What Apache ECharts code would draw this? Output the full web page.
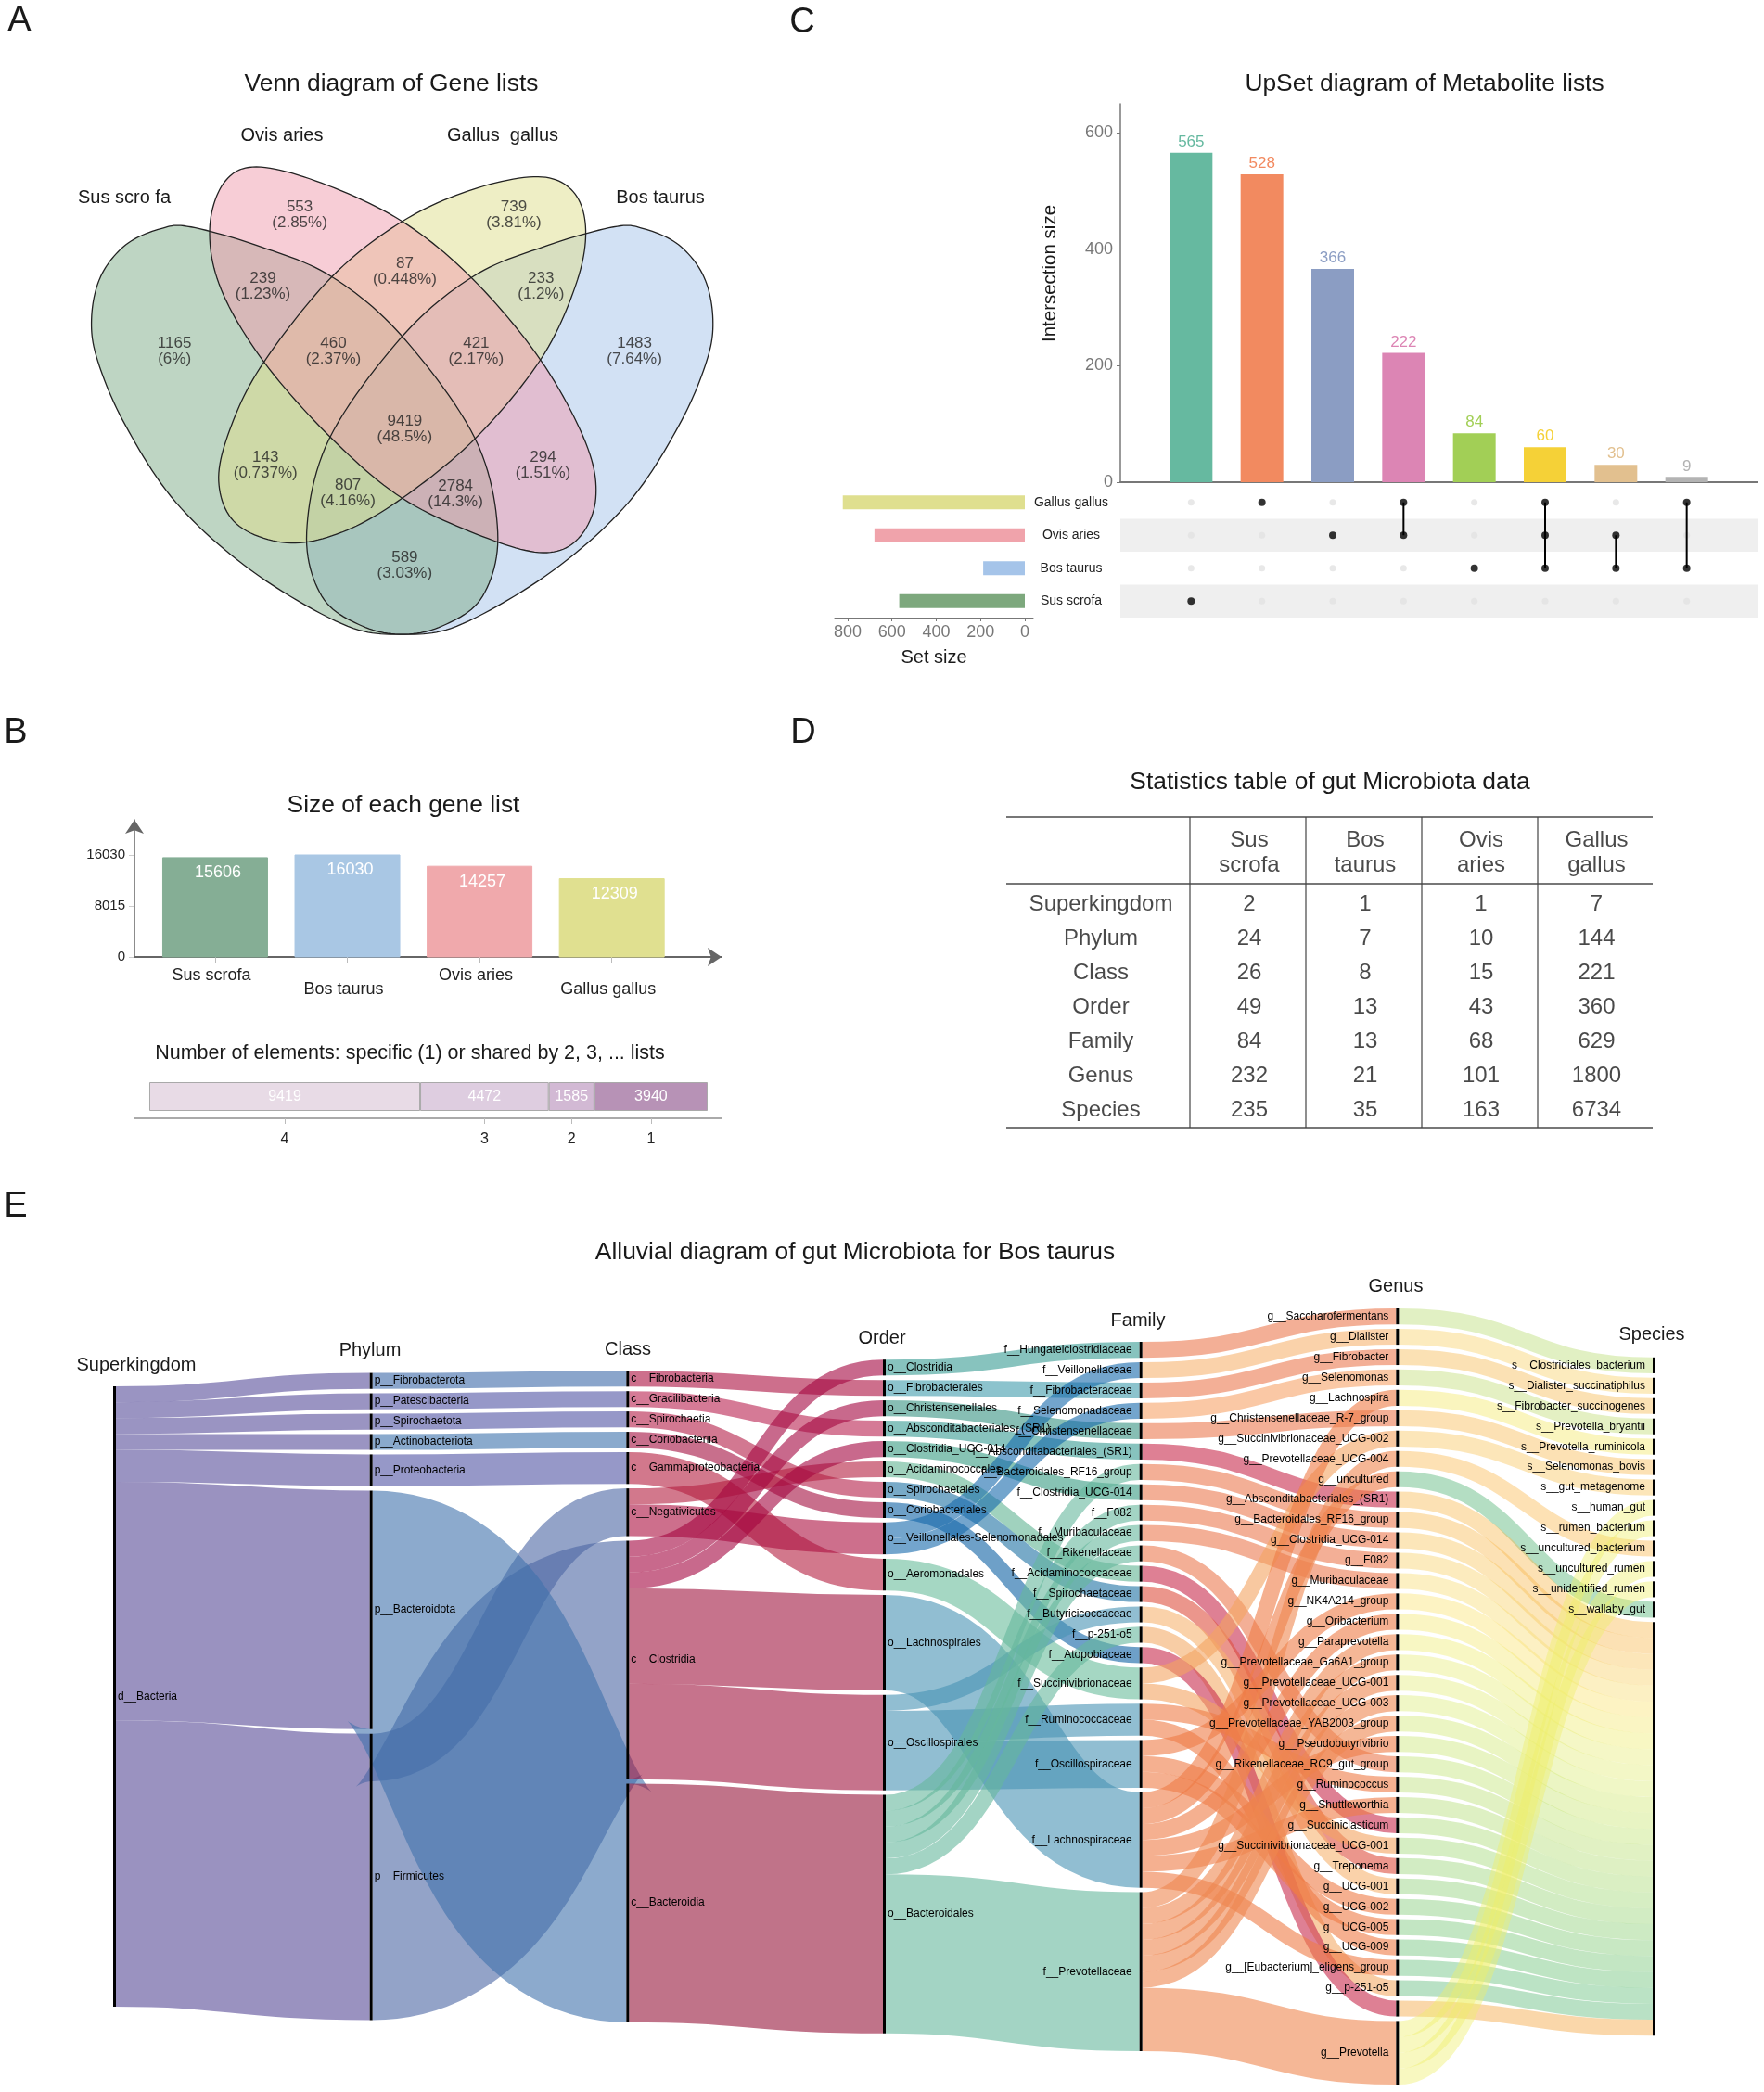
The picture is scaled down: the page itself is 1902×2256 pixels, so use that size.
<!DOCTYPE html>
<html><head><meta charset="utf-8">
<style>html,body{margin:0;padding:0;background:#fff}#c{width:1902px;height:2256px}</style>
<script src="https://cdn.jsdelivr.net/npm/echarts@6/dist/echarts.min.js"></script>
</head><body><div id="c"></div>
<script>
const FONT = "'Liberation Sans', Arial, sans-serif";

/* ---------- A: Venn ---------- */
const vennDrawOrder = [1,0,3,2];
const vennColors = ['rgba(125,171,135,0.5)','rgba(165,195,233,0.5)','rgba(239,155,173,0.5)','rgba(221,221,139,0.5)'];
const vennOutlineSus = [[380,533],[520,580],[660,650],[800,790],[945,1030],[990,1250],[960,1400],[880,1470],[790,1490],[680,1465],[500,1340],[350,1180],[250,1000],[195,850],[182,750],[200,650],[250,575],[320,537]];
const vennOutlineBos = [[1220,533],[1080,580],[940,650],[800,790],[655,1030],[610,1250],[640,1400],[720,1470],[810,1490],[920,1465],[1100,1340],[1250,1180],[1350,1000],[1405,850],[1418,750],[1400,650],[1350,575],[1280,537]];
const vennOutlineOvis = [[510,392],[640,430],[800,520],[940,655],[1075,845],[1165,1040],[1185,1170],[1150,1265],[1080,1298],[960,1260],[800,1170],[660,1030],[525,850],[440,680],[417,540],[445,430]];
const vennOutlineGallus = [[1070,415],[1140,450],[1165,540],[1145,670],[1075,845],[945,1030],[800,1170],[680,1250],[570,1275],[470,1230],[435,1130],[460,1000],[525,850],[660,650],[800,520],[940,445]];
const vennOutlines = [vennOutlineSus, vennOutlineBos, vennOutlineOvis, vennOutlineGallus];
const vennCounts = [553,739,239,87,233,1165,460,421,1483,9419,143,294,807,2784,589];
const vennPercents = ['2.85%','3.81%','1.23%','0.448%','1.2%','6%','2.37%','2.17%','7.64%','48.5%','0.737%','1.51%','4.16%','14.3%','3.03%'];
const vennLabelAt = [[596,505],[1022,505],[523,672],[805,638],[1076,672],[347,824],[663,824],[947,824],[1262,824],[805,1008],[528,1092],[1080,1092],[692,1158],[906,1160],[805,1327]];

/* ---------- B: list sizes ---------- */
const geneLists = ['Sus scrofa','Bos taurus','Ovis aries','Gallus gallus'];
const geneSizes = [15606,16030,14257,12309];
const geneColors = ['#85ae95','#a9c7e4','#f0a9ac','#e0e090'];
const sharedLabels = ['4','3','2','1'];
const sharedCounts = [9419,4472,1585,3940];
const sharedColors = ['#e8dbe6','#decde0','#d2b9d4','#b792b6'];

/* ---------- C: UpSet ---------- */
const upsetSets = ['Gallus gallus','Ovis aries','Bos taurus','Sus scrofa'];
const upsetSetSizes = [822,679,188,567];
const upsetSetColors = ['#dfdf8f','#f0a3ab','#a5c4e9','#7da87d'];
const upsetSizes = [565,528,366,222,84,60,30,9];
const upsetColors = ['#66b9a0','#f28a60','#8b9dc3','#dc85b4','#a2cf56','#f5d137','#e2c08f','#b3b3b3'];
const upsetMembers = [[3],[0],[1],[0,1],[2],[0,1,2],[1,2],[0,2]];

/* ---------- D: table ---------- */
const tableSpecies = ['Sus\nscrofa','Bos\ntaurus','Ovis\naries','Gallus\ngallus'];
const tableRanks = ['Superkingdom','Phylum','Class','Order','Family','Genus','Species'];
const tableSus = [2,24,26,49,84,232,235];
const tableBos = [1,7,8,13,13,21,35];
const tableOvis = [1,10,15,43,68,101,163];
const tableGallus = [7,144,221,360,629,1800,6734];

/* ---------- E: alluvial ---------- */
const nodesKingdom = ['d__Bacteria'];
const nodesPhylum = ['p__Fibrobacterota','p__Patescibacteria','p__Spirochaetota','p__Actinobacteriota','p__Proteobacteria','p__Bacteroidota','p__Firmicutes'];
const nodesClass = ['c__Fibrobacteria','c__Gracilibacteria','c__Spirochaetia','c__Coriobacteriia','c__Gammaproteobacteria','c__Negativicutes','c__Clostridia','c__Bacteroidia'];
const nodesOrder = ['o__Clostridia','o__Fibrobacterales','o__Christensenellales','o__Absconditabacteriales_(SR1)','o__Clostridia_UCG-014','o__Acidaminococcales','o__Spirochaetales','o__Coriobacteriales','o__Veillonellales-Selenomonadales','o__Aeromonadales','o__Lachnospirales','o__Oscillospirales','o__Bacteroidales'];
const nodesFamily = ['f__Hungateiclostridiaceae','f__Veillonellaceae','f__Fibrobacteraceae','f__Selenomonadaceae','f__Christensenellaceae','f__Absconditabacteriales_(SR1)','f__Bacteroidales_RF16_group','f__Clostridia_UCG-014','f__F082','f__Muribaculaceae','f__Rikenellaceae','f__Acidaminococcaceae','f__Spirochaetaceae','f__Butyricicoccaceae','f__p-251-o5','f__Atopobiaceae','f__Succinivibrionaceae','f__Ruminococcaceae','f__Oscillospiraceae','f__Lachnospiraceae','f__Prevotellaceae'];
const nodesGenus = ['g__Saccharofermentans','g__Dialister','g__Fibrobacter','g__Selenomonas','g__Lachnospira','g__Christensenellaceae_R-7_group','g__Succinivibrionaceae_UCG-002','g__Prevotellaceae_UCG-004','g__uncultured','g__Absconditabacteriales_(SR1)','g__Bacteroidales_RF16_group','g__Clostridia_UCG-014','g__F082','g__Muribaculaceae','g__NK4A214_group','g__Oribacterium','g__Paraprevotella','g__Prevotellaceae_Ga6A1_group','g__Prevotellaceae_UCG-001','g__Prevotellaceae_UCG-003','g__Prevotellaceae_YAB2003_group','g__Pseudobutyrivibrio','g__Rikenellaceae_RC9_gut_group','g__Ruminococcus','g__Shuttleworthia','g__Succiniclasticum','g__Succinivibrionaceae_UCG-001','g__Treponema','g__UCG-001','g__UCG-002','g__UCG-005','g__UCG-009','g__[Eubacterium]_eligens_group','g__p-251-o5','g__other','g__Prevotella'];
const nodesSpecies = ['s__Clostridiales_bacterium','s__Dialister_succinatiphilus','s__Fibrobacter_succinogenes','s__Prevotella_bryantii','s__Prevotella_ruminicola','s__Selenomonas_bovis','s__gut_metagenome','s__human_gut','s__rumen_bacterium','s__uncultured_bacterium','s__uncultured_rumen','s__unidentified_rumen','s__wallaby_gut','s__other'];
const hiddenLabels = ['g__other','s__other'];
const columnTitles = ['Superkingdom','Phylum','Class','Order','Family','Genus','Species'];

const S = 17;
const linksKingdom = [
 ['d__Bacteria','p__Fibrobacterota',S,'#9a94c2'],['d__Bacteria','p__Patescibacteria',S,'#9a94c2'],['d__Bacteria','p__Spirochaetota',S,'#9a94c2'],['d__Bacteria','p__Actinobacteriota',S,'#9a94c2'],['d__Bacteria','p__Proteobacteria',2*S,'#9a94c2'],['d__Bacteria','p__Bacteroidota',255,'#9a92c0'],['d__Bacteria','p__Firmicutes',306,'#9a92c0']];
const linksPhylum = [
 ['p__Fibrobacterota','c__Fibrobacteria',S,'#8aa5cb'],['p__Patescibacteria','c__Gracilibacteria',S,'#9698c8'],['p__Spirochaetota','c__Spirochaetia',S,'#9698c8'],['p__Actinobacteriota','c__Coriobacteriia',S,'#8aaacd'],['p__Proteobacteria','c__Gammaproteobacteria',2*S,'#9698c8'],['p__Firmicutes','c__Negativicutes',3*S,'#93a3c8'],['p__Firmicutes','c__Clostridia',255,'#93a3c8'],['p__Bacteroidota','c__Bacteroidia',255,'#8caacd']];
const linksClass = [
 ['c__Fibrobacteria','o__Fibrobacterales',S,'#cd6f8c'],['c__Gracilibacteria','o__Absconditabacteriales_(SR1)',S,'#d57a96'],['c__Spirochaetia','o__Spirochaetales',S,'#d27891'],['c__Coriobacteriia','o__Coriobacteriales',S,'#c86f8c'],['c__Gammaproteobacteria','o__Aeromonadales',2*S,'#d2788c'],['c__Negativicutes','o__Acidaminococcales',S,'#d2788c'],['c__Negativicutes','o__Veillonellales-Selenomonadales',2*S,'#cd6f8c'],['c__Clostridia','o__Clostridia',S,'#c8698c'],['c__Clostridia','o__Christensenellales',S,'#c8698c'],['c__Clostridia','o__Clostridia_UCG-014',S,'#c8698c'],['c__Clostridia','o__Lachnospirales',102,'#c6738c'],['c__Clostridia','o__Oscillospirales',102,'#c6738c'],['c__Bacteroidia','o__Bacteroidales',255,'#c07389']];
const linksOrder = [
 ['o__Clostridia','f__Hungateiclostridiaceae',S,'#87c3be'],['o__Fibrobacterales','f__Fibrobacteraceae',S,'#8cc3cd'],['o__Christensenellales','f__Christensenellaceae',S,'#87beb4'],['o__Absconditabacteriales_(SR1)','f__Absconditabacteriales_(SR1)',S,'#87c3be'],['o__Clostridia_UCG-014','f__Clostridia_UCG-014',S,'#87c3b4'],['o__Acidaminococcales','f__Acidaminococcaceae',S,'#a0d2be'],['o__Spirochaetales','f__Spirochaetaceae',S,'#78aac8'],['o__Coriobacteriales','f__Atopobiaceae',S,'#6ea0c8'],['o__Veillonellales-Selenomonadales','f__Veillonellaceae',S,'#73a5cd'],['o__Veillonellales-Selenomonadales','f__Selenomonadaceae',S,'#73a5cd'],['o__Aeromonadales','f__Succinivibrionaceae',2*S,'#a5d7c3'],['o__Lachnospirales','f__Lachnospiraceae',102,'#91bed2'],['o__Oscillospirales','f__Butyricicoccaceae',S,'#91bed2'],['o__Oscillospirales','f__Ruminococcaceae',2*S,'#91bed2'],['o__Oscillospirales','f__Oscillospiraceae',3*S,'#91bed2'],
 ['o__Bacteroidales','f__Bacteroidales_RF16_group',S,'#a3d4c4'],['o__Bacteroidales','f__F082',S,'#a3d4c4'],['o__Bacteroidales','f__Muribaculaceae',S,'#a3d4c4'],['o__Bacteroidales','f__Rikenellaceae',S,'#a3d4c4'],['o__Bacteroidales','f__p-251-o5',S,'#a3d4c4'],['o__Bacteroidales','f__Prevotellaceae',170,'#a3d4c4']];
const cSalmon='#f3af96', cPeach='#fad2aa', cRose='#de8094', cOrange='#f5b090', cPrev='#f5b796';
const linksFamily = [
 ['f__Hungateiclostridiaceae','g__Saccharofermentans',S,cSalmon],['f__Veillonellaceae','g__Dialister',S,cPeach],['f__Fibrobacteraceae','g__Fibrobacter',S,cSalmon],['f__Selenomonadaceae','g__Selenomonas',S,'#fac8a5'],['f__Christensenellaceae','g__Christensenellaceae_R-7_group',S,cSalmon],['f__Absconditabacteriales_(SR1)','g__Absconditabacteriales_(SR1)',S,cRose],['f__Bacteroidales_RF16_group','g__Bacteroidales_RF16_group',S,cSalmon],['f__Clostridia_UCG-014','g__Clostridia_UCG-014',S,cSalmon],['f__F082','g__F082',S,cSalmon],['f__Muribaculaceae','g__Muribaculaceae',S,cSalmon],['f__Rikenellaceae','g__Rikenellaceae_RC9_gut_group',S,cSalmon],['f__Acidaminococcaceae','g__Succiniclasticum',S,cRose],['f__Spirochaetaceae','g__Treponema',S,'#eb968c'],['f__Butyricicoccaceae','g__UCG-001',S,cPeach],['f__p-251-o5','g__p-251-o5',S,'#f8cda5'],['f__Atopobiaceae','g__other',S,cRose],
 ['f__Succinivibrionaceae','g__Succinivibrionaceae_UCG-002',S,'#f8c8a0'],['f__Succinivibrionaceae','g__Succinivibrionaceae_UCG-001',S,'#f8c8a0'],['f__Ruminococcaceae','g__Ruminococcus',S,cOrange],['f__Ruminococcaceae','g__UCG-009',S,cOrange],['f__Oscillospiraceae','g__NK4A214_group',S,cOrange],['f__Oscillospiraceae','g__UCG-002',S,cOrange],['f__Oscillospiraceae','g__UCG-005',S,cOrange],
 ['f__Lachnospiraceae','g__Lachnospira',S,cOrange],['f__Lachnospiraceae','g__uncultured',S,cOrange],['f__Lachnospiraceae','g__Oribacterium',S,cOrange],['f__Lachnospiraceae','g__Pseudobutyrivibrio',S,cOrange],['f__Lachnospiraceae','g__Shuttleworthia',S,cOrange],['f__Lachnospiraceae','g__[Eubacterium]_eligens_group',S,cOrange],
 ['f__Prevotellaceae','g__Prevotellaceae_UCG-004',S,cPrev],['f__Prevotellaceae','g__Paraprevotella',S,cPrev],['f__Prevotellaceae','g__Prevotellaceae_Ga6A1_group',S,cPrev],['f__Prevotellaceae','g__Prevotellaceae_UCG-001',S,cPrev],['f__Prevotellaceae','g__Prevotellaceae_UCG-003',S,cPrev],['f__Prevotellaceae','g__Prevotellaceae_YAB2003_group',S,cPrev],['f__Prevotellaceae','g__Prevotella',68,cPrev]];
const linksGenus = [
 ['g__Saccharofermentans','s__Clostridiales_bacterium',S,'#e1f0c3'],['g__Dialister','s__Dialister_succinatiphilus',S,'#fcebbe'],['g__Fibrobacter','s__Fibrobacter_succinogenes',S,'#fbe1b4'],['g__Selenomonas','s__Prevotella_bryantii',S,'#e4f0c3'],['g__Lachnospira','s__Prevotella_ruminicola',S,'#faf5be'],['g__Christensenellaceae_R-7_group','s__Selenomonas_bovis',S,'#fce1b4'],['g__Succinivibrionaceae_UCG-002','s__gut_metagenome',S,'#fce6b9'],['g__Prevotellaceae_UCG-004','s__uncultured_bacterium',S,'#fde1b4'],['g__uncultured','s__wallaby_gut',S,'#b4dec3'],
 ['g__Absconditabacteriales_(SR1)','s__other',S,'#fce1b4'],['g__Bacteroidales_RF16_group','s__other',S,'#fce1b4'],['g__Clostridia_UCG-014','s__other',S,'#fce6b9'],['g__F082','s__other',S,'#fcebbe'],['g__Muribaculaceae','s__other',S,'#fcf0c3'],['g__NK4A214_group','s__other',S,'#fdf3c3'],['g__Oribacterium','s__other',S,'#faf5c3'],['g__Paraprevotella','s__other',S,'#f8f7c3'],['g__Prevotellaceae_Ga6A1_group','s__other',S,'#f5f7c6'],['g__Prevotellaceae_UCG-001','s__other',S,'#f3f7c6'],['g__Prevotellaceae_UCG-003','s__other',S,'#f0f7c6'],['g__Prevotellaceae_YAB2003_group','s__other',S,'#ebf5c3'],['g__Pseudobutyrivibrio','s__other',S,'#e8f4c3'],['g__Rikenellaceae_RC9_gut_group','s__other',S,'#e4f3c3'],['g__Ruminococcus','s__other',S,'#e1f1c3'],['g__Shuttleworthia','s__other',S,'#def0c3'],['g__Succiniclasticum','s__other',S,'#daefc3'],['g__Succinivibrionaceae_UCG-001','s__other',S,'#d6eec3'],['g__Treponema','s__other',S,'#d2ecc3'],['g__UCG-001','s__other',S,'#cdeac3'],['g__UCG-002','s__other',S,'#c8e8c3'],['g__UCG-005','s__other',S,'#c3e6c3'],['g__UCG-009','s__other',S,'#bee4c3'],['g__[Eubacterium]_eligens_group','s__other',S,'#bbe3c5'],['g__p-251-o5','s__other',S,'#b9e1c5'],['g__other','s__other',S,'#fad7aa'],
 ['g__Prevotella','s__human_gut',S,'#f8f8c0'],['g__Prevotella','s__rumen_bacterium',S,'#f8f8c0'],['g__Prevotella','s__uncultured_rumen',S,'#f8f8c0'],['g__Prevotella','s__unidentified_rumen',S,'#f8f8c0']];

/* ---------- helpers ---------- */
const linkAlpha = l => l[0].startsWith('g__') ? 0.42 : 0.6;
function toBase(hex, a){ // displayed colour over white -> colour drawn with alpha
  const v=[1,3,5].map(i=>parseInt(hex.substr(i,2),16));
  const b=v.map(d=>Math.max(0,Math.min(255,Math.round((d-255*(1-a))/a))));
  return 'rgb('+b.join(',')+')';
}
function closedSpline(pts, steps){
  const out=[],n=pts.length;
  for(let i=0;i<n;i++){
    const p0=pts[(i-1+n)%n],p1=pts[i],p2=pts[(i+1)%n],p3=pts[(i+2)%n];
    for(let s=0;s<steps;s++){
      const t=s/steps,t2=t*t,t3=t2*t;
      out.push([0,1].map(k=>0.5*(2*p1[k]+(p2[k]-p0[k])*t+(2*p0[k]-5*p1[k]+4*p2[k]-p3[k])*t2+(3*p1[k]-p0[k]-3*p2[k]+p3[k])*t3)));
    }
  }
  return out;
}

/* sankey: columns centred on the same midline, built from the values */
const columns=[nodesKingdom,nodesPhylum,nodesClass,nodesOrder,nodesFamily,nodesGenus,nodesSpecies];
const allLinks=[].concat(linksKingdom,linksPhylum,linksClass,linksOrder,linksFamily,linksGenus);
const SK_LEFT=122, SK_TOP=1411, SK_W=1663, SK_H=837, SK_GAP=4.8, SK_NODE=3;
const inSum={},outSum={};
allLinks.forEach(l=>{outSum[l[0]]=(outSum[l[0]]||0)+l[2];inSum[l[1]]=(inSum[l[1]]||0)+l[2];});
const nodeVal=n=>Math.max(inSum[n]||0,outSum[n]||0);
let ky=Infinity;
columns.forEach(c=>{const s=c.reduce((a,n)=>a+nodeVal(n),0);ky=Math.min(ky,(SK_H-(c.length-1)*SK_GAP)/s);});
const sankeyNodes=[], geom={};
const colStep=(SK_W-SK_NODE)/(columns.length-1);
columns.forEach((c,ci)=>{
  const s=c.reduce((a,n)=>a+nodeVal(n),0);
  let y=(SK_H-(s*ky+(c.length-1)*SK_GAP))/2;
  c.forEach((n,ri)=>{
    const right=ci<4;
    sankeyNodes.push({name:n,localY:y/SK_H,itemStyle:{color:'#000',borderWidth:0},
      label:{show:!hiddenLabels.includes(n),position:right?'right':'left',distance:right?2:8}});
    geom[n]={x:SK_LEFT+ci*colStep,y:SK_TOP+y,row:ri,outOff:0,inOff:0};
    y+=nodeVal(n)*ky+SK_GAP;
  });
});
/* ribbons are stroked along the centre line: stacked per node, like the library's edge ordering */
const linkGeom=allLinks.map(()=>({}));
const byOut=allLinks.map((l,i)=>i).sort((a,b)=>geom[allLinks[a][1]].row-geom[allLinks[b][1]].row);
byOut.forEach(i=>{const l=allLinks[i],n=geom[l[0]],w=l[2]*ky;linkGeom[i].y0=n.y+n.outOff+w/2;linkGeom[i].x0=n.x+SK_NODE;linkGeom[i].w=w;n.outOff+=w;});
const byIn=allLinks.map((l,i)=>i).sort((a,b)=>geom[allLinks[a][0]].row-geom[allLinks[b][0]].row);
byIn.forEach(i=>{const l=allLinks[i],n=geom[l[1]],w=l[2]*ky;linkGeom[i].y1=n.y+n.inOff+w/2;linkGeom[i].x1=n.x;n.inOff+=w;});
const sankeyLinks=allLinks.map(l=>({source:l[0],target:l[1],value:l[2],lineStyle:{opacity:0}}));

/* option pieces */
const hiddenAxis=(o)=>Object.assign({show:false},o);
const grey='#777';
const rowsIdx=upsetSets.map((_,i)=>i);
const matrixPts=[];
upsetMembers.forEach((m,i)=>rowsIdx.forEach(r=>matrixPts.push({value:[i,r],itemStyle:{color:m.includes(r)?'#000':'#e2e2e2'},symbolSize:m.includes(r)?8:7})));
const upsetLines=upsetMembers.filter(m=>m.length>1).map(m=>{
  const i=upsetMembers.indexOf(m);
  return {type:'line',xAxisIndex:2,yAxisIndex:2,symbol:'none',silent:true,z:3,lineStyle:{color:'#000',width:2},
    data:[[i,Math.min(...m)],[i,Math.max(...m)]]};
});
let cum=0; const sharedMid=sharedCounts.map(v=>{const m=cum+v/2;cum+=v;return m;});
const tableEdges=[0,198,323,448,573,697];
const tableMid=tableEdges.slice(0,-1).map((e,i)=>(e+tableEdges[i+1])/2+1.5);
const tableCols=[tableSus,tableBos,tableOvis,tableGallus];
const tableCells=[];
const rowNudge=0.04;
tableRanks.forEach((r,i)=>{tableCells.push([102,i+rowNudge,r]);tableCols.forEach((c,k)=>tableCells.push([tableMid[k+1],i+rowNudge,String(c[i])]));});
tableSpecies.forEach((s,k)=>tableCells.push([tableMid[k+1],-1.5+rowNudge,s]));
const tableTop=-2.514,tableHead=-0.568,tableBottom=6.541;
const tableRules=[[0,tableTop,697,tableTop,2],[0,tableHead,697,tableHead,2],[0,tableBottom,697,tableBottom,2]]
  .concat(tableEdges.slice(1,-1).map(e=>[e,tableTop,e,tableBottom,1.2]));

const texts=[
 ['A',21,23,38],['B',17,791,38],['C',865,25,38],['D',866,791,38],['E',17,1302,38],
 ['Venn diagram of Gene lists',422,91,26.4],['Ovis aries',304,146,20],['Gallus  gallus',542,146,20],['Sus scro fa',134,213,20],['Bos taurus',712,213,20],
 ['UpSet diagram of Metabolite lists',1536,91,26.4],
 ['Size of each gene list',435,869,26.4],['Number of elements: specific (1) or shared by 2, 3, ... lists',442,1136,21.5],
 ['Statistics table of gut Microbiota data',1434,844,26.4],
 ['Alluvial diagram of gut Microbiota for Bos taurus',922,1351,26.4]
];
const titleX=[147,399,677,951,1227,1505,1781], titleY=[1472,1456,1455,1443,1424,1387,1439];
columnTitles.forEach((t,i)=>texts.push([t,titleX[i],titleY[i],20]));
const txt=(t,x,y,size,extra)=>Object.assign({type:'text',x,y,silent:true,style:{text:t,fontFamily:FONT,fontSize:size,fill:'#1a1a1a',align:'center',verticalAlign:'middle'}},extra||{});

const option={
 animation:false,backgroundColor:'#fff',textStyle:{fontFamily:FONT},
 graphic:{elements:texts.map(t=>txt(t[0],t[1],t[2],t[3])).concat([txt('Intersection size',1132,295,20.5,{rotation:Math.PI/2})])},
 grid:[
  {left:0,top:0,width:850,height:720},
  {left:1208,top:112,width:687,height:408},
  {left:1208,top:524,width:687,height:142},
  {left:900,top:524,width:214,height:142},
  {left:145,top:884,width:633,height:148},
  {left:145,top:1159,width:633,height:47},
  {left:1085,top:881,width:697,height:335},
  {left:0,top:0,width:1902,height:2256}
 ],
 xAxis:[
  hiddenAxis({type:'value',gridIndex:0,min:0,max:1568}),
  {type:'value',gridIndex:1,min:-1,max:8,splitLine:{show:false},axisLabel:{show:false},axisTick:{show:false},axisLine:{show:true,onZero:false,lineStyle:{color:grey,width:2}}},
  hiddenAxis({type:'value',gridIndex:2,min:-1,max:8}),
  {type:'value',gridIndex:3,inverse:true,min:-37.7,max:858.5,splitLine:{show:false},
    axisLine:{show:true,onZero:false,lineStyle:{color:grey}},axisTick:{show:true,lineStyle:{color:grey},length:4,customValues:[0,200,400,600,800]},
    axisLabel:{color:grey,fontSize:18,margin:7,customValues:[0,200,400,600,800]},
    name:'Set size',nameLocation:'middle',nameGap:33,nameTextStyle:{color:'#1a1a1a',fontSize:20}},
  {type:'value',gridIndex:4,min:-0.61,max:3.83,splitLine:{show:false},
    axisLine:{show:true,onZero:false,symbol:['none','arrow'],symbolSize:[15,15],lineStyle:{color:'#666',width:2}},
    axisTick:{show:true,customValues:[0,1,2,3],lineStyle:{color:'#bbb'},length:6},
    axisLabel:{customValues:[0,1,2,3],color:'#222',fontSize:18,lineHeight:15,margin:13,padding:[0,8,0,0],formatter:v=>(v%2?'\n':'')+geneLists[v]}},
  {type:'value',gridIndex:5,min:-516,max:19900,splitLine:{show:false},
    axisLine:{show:true,onZero:false,lineStyle:{color:'#aaa',width:2}},
    axisTick:{show:true,customValues:sharedMid,lineStyle:{color:'#bbb'},length:6},
    axisLabel:{customValues:sharedMid,color:'#222',fontSize:16,margin:15,formatter:v=>sharedLabels[sharedMid.indexOf(v)]}},
  hiddenAxis({type:'value',gridIndex:6,min:0,max:697}),
  hiddenAxis({type:'value',gridIndex:7,min:0,max:1902})
 ],
 yAxis:[
  hiddenAxis({type:'value',gridIndex:0,min:0,max:1568,inverse:true}),
  {type:'value',gridIndex:1,min:0,max:649,splitLine:{show:false},
    axisLine:{show:true,onZero:false,lineStyle:{color:grey,width:1.5}},
    axisTick:{show:true,customValues:[0,200,400,600],lineStyle:{color:grey},length:4},
    axisLabel:{customValues:[0,200,400,600],color:grey,fontSize:18,margin:8}},
  {type:'category',gridIndex:2,inverse:true,data:upsetSets,axisLine:{show:false},axisTick:{show:false},
    splitArea:{show:true,areaStyle:{color:['rgba(0,0,0,0)','#efefef']}},
    axisLabel:{color:'#222',fontSize:14,margin:53,align:'center'}},
  hiddenAxis({type:'category',gridIndex:3,inverse:true,data:upsetSets}),
  {type:'value',gridIndex:4,min:0,max:21568,splitLine:{show:false},
    axisLine:{show:true,onZero:false,symbol:['none','arrow'],symbolSize:[15,15],lineStyle:{color:'#666',width:1.5}},
    axisTick:{show:true,customValues:[0,8015,16030],lineStyle:{color:'#ccc'},length:6},
    axisLabel:{customValues:[0,8015,16030],color:'#222',fontSize:15,margin:10,formatter:v=>String(v)}},
  hiddenAxis({type:'category',gridIndex:5,data:['shared']}),
  hiddenAxis({type:'value',gridIndex:6,min:tableTop,max:tableBottom,inverse:true}),
  hiddenAxis({type:'value',gridIndex:7,min:0,max:2256,inverse:true})
 ],
 series:[
  {type:'custom',xAxisIndex:0,yAxisIndex:0,silent:true,clip:false,z:2,data:vennDrawOrder.map(i=>[i]),
   renderItem:(p,api)=>{const i=api.value(0);
     return {type:'polygon',shape:{points:closedSpline(vennOutlines[i],12).map(q=>api.coord(q))},
       style:{fill:vennColors[i],stroke:null}};}},
  {type:'custom',xAxisIndex:0,yAxisIndex:0,silent:true,clip:false,z:3,data:vennDrawOrder.map(i=>[i]),
   renderItem:(p,api)=>{const i=api.value(0);
     return {type:'polygon',shape:{points:closedSpline(vennOutlines[i],12).map(q=>api.coord(q))},
       style:{fill:null,stroke:'#222',lineWidth:1.3}};}},
  {type:'scatter',xAxisIndex:0,yAxisIndex:0,silent:true,z:5,symbolSize:1,itemStyle:{color:'rgba(0,0,0,0)'},
   data:vennCounts.map((c,i)=>({value:vennLabelAt[i]})),
   label:{show:true,position:'inside',color:'#222',fontSize:17,lineHeight:17,
     formatter:p=>vennCounts[p.dataIndex]+'\n('+vennPercents[p.dataIndex]+')'}},

  {type:'bar',xAxisIndex:1,yAxisIndex:1,barWidth:46,silent:true,
   data:upsetSizes.map((v,i)=>({value:[i,v],itemStyle:{color:upsetColors[i]},label:{color:upsetColors[i]}})),
   label:{show:true,position:'top',fontSize:17,distance:3,formatter:p=>p.value[1]}},
  {type:'scatter',xAxisIndex:2,yAxisIndex:2,silent:true,z:2,data:matrixPts},
  ...upsetLines,
  {type:'bar',xAxisIndex:3,yAxisIndex:3,barWidth:15,silent:true,
   data:upsetSetSizes.map((v,i)=>({value:v,itemStyle:{color:upsetSetColors[i]}}))},

  {type:'bar',xAxisIndex:4,yAxisIndex:4,barWidth:113,silent:true,
   data:geneSizes.map((v,i)=>({value:[i,v],itemStyle:{color:geneColors[i],borderColor:geneColors[i]}})),
   label:{show:true,position:'insideTop',distance:8,offset:[3,0],color:'#fff',fontSize:18,formatter:p=>p.value[1]}},
  ...sharedCounts.map((v,i)=>({type:'bar',xAxisIndex:5,yAxisIndex:5,stack:'shared',barWidth:31,silent:true,
    data:[v],itemStyle:{color:sharedColors[i],borderColor:'#a9a9a9',borderWidth:1},
    label:{show:true,position:'inside',color:'#fff',fontSize:16}})),

  {type:'custom',xAxisIndex:6,yAxisIndex:6,silent:true,clip:false,data:tableRules,
   renderItem:(p,api)=>{const a=api.coord([api.value(0),api.value(1)]),b=api.coord([api.value(2),api.value(3)]);
     return {type:'line',shape:{x1:a[0],y1:a[1],x2:b[0],y2:b[1]},style:{stroke:api.value(4)>1.5?'#777':'#444',lineWidth:api.value(4)}};}},
  {type:'scatter',xAxisIndex:6,yAxisIndex:6,silent:true,symbolSize:1,itemStyle:{color:'rgba(0,0,0,0)'},data:tableCells,
   label:{show:true,position:'inside',color:'#1c1c1c',fontSize:24,lineHeight:27,formatter:p=>p.data[2]}},

  {type:'custom',xAxisIndex:7,yAxisIndex:7,silent:true,clip:false,z:1,data:allLinks.map((_,i)=>[i]),
   renderItem:(p,api)=>{const i=api.value(0),g=linkGeom[i],mid=(g.x0+g.x1)/2,al=linkAlpha(allLinks[i]);
     const a=api.coord([g.x0,g.y0]),b=api.coord([mid,g.y0]),c=api.coord([mid,g.y1]),d=api.coord([g.x1,g.y1]);
     return {type:'bezierCurve',shape:{x1:a[0],y1:a[1],cpx1:b[0],cpy1:b[1],cpx2:c[0],cpy2:c[1],x2:d[0],y2:d[1]},
       style:{fill:null,stroke:toBase(allLinks[i][3],al),lineWidth:g.w,opacity:al,lineCap:'butt'}};}},
  {type:'sankey',z:4,left:SK_LEFT,top:SK_TOP,width:SK_W,height:SK_H,nodeWidth:SK_NODE,nodeGap:SK_GAP,layoutIterations:0,
   nodeAlign:'justify',draggable:false,silent:true,emphasis:{disabled:true},
   data:sankeyNodes,links:sankeyLinks,
   lineStyle:{curveness:0.5,opacity:0},
   label:{color:'#000',fontSize:12}}
 ]
};
const chart=echarts.init(document.getElementById('c'),null,{renderer:'canvas',width:1902,height:2256});
chart.setOption(option);
</script></body></html>
